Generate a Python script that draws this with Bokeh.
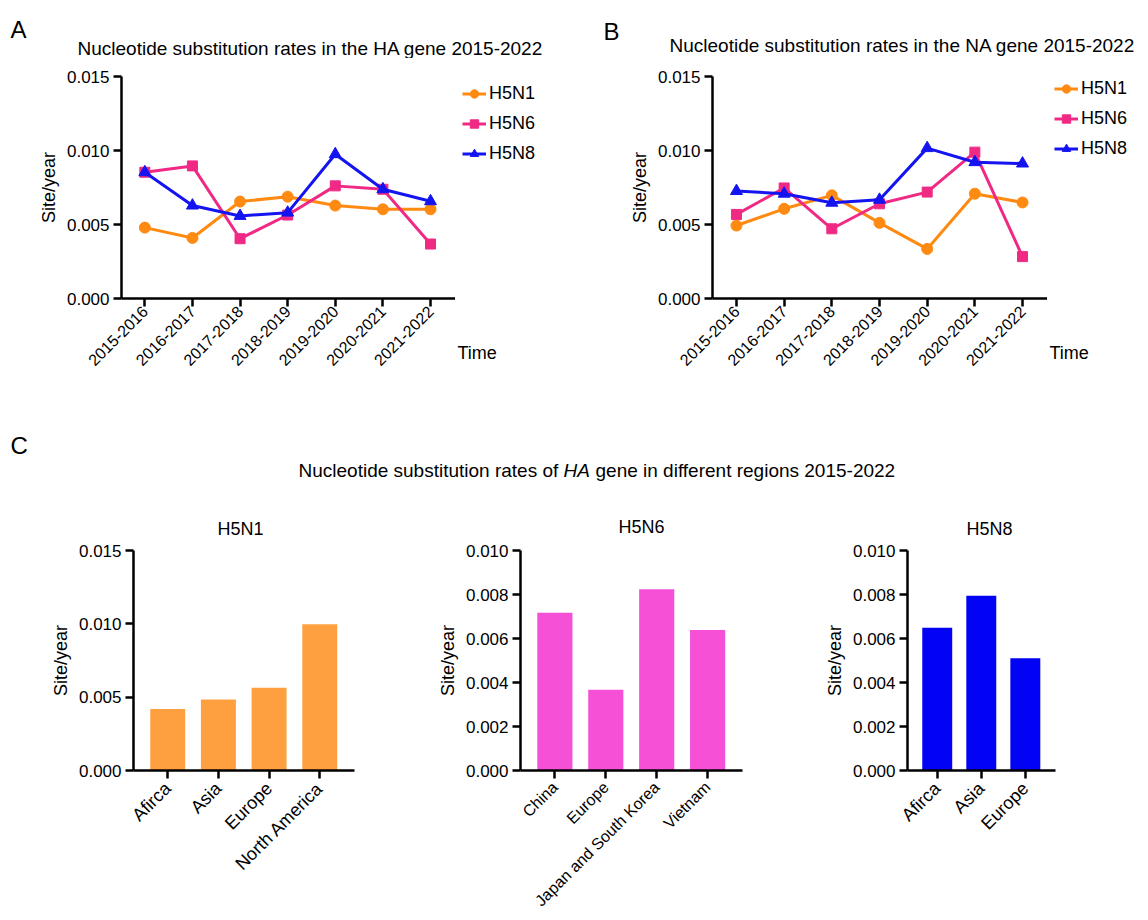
import math
from bokeh.plotting import figure
from bokeh.models import Range1d, FixedTicker, NumeralTickFormatter, Label, Legend, LegendItem, Title
from bokeh.layouts import column, row
from bokeh.embed import file_html
from bokeh.resources import INLINE

FONT = "Liberation Sans"

# ---------------- data ----------------
periods = ["2015-2016", "2016-2017", "2017-2018", "2018-2019", "2019-2020", "2020-2021", "2021-2022"]
subtypes = ["H5N1", "H5N6", "H5N8"]

ha_h5n1 = [0.00479, 0.00409, 0.00655, 0.00688, 0.00628, 0.00603, 0.00603]
ha_h5n6 = [0.00853, 0.00896, 0.00404, 0.00564, 0.00761, 0.00738, 0.00368]
ha_h5n8 = [0.00853, 0.00628, 0.00558, 0.00580, 0.00975, 0.00738, 0.00657]

na_h5n1 = [0.00493, 0.00606, 0.00697, 0.00511, 0.00335, 0.00708, 0.00649]
na_h5n6 = [0.00568, 0.00747, 0.00471, 0.00640, 0.00719, 0.00989, 0.00283]
na_h5n8 = [0.00726, 0.00708, 0.00647, 0.00667, 0.01016, 0.00921, 0.00912]

h5n1_regions = ["Afirca", "Asia", "Europe", "North America"]
h5n1_rates = [0.00420, 0.00484, 0.00564, 0.00998]
h5n6_regions = ["China", "Europe", "Japan and South Korea", "Vietnam"]
h5n6_rates = [0.00717, 0.00367, 0.00824, 0.00639]
h5n8_regions = ["Afirca", "Asia", "Europe"]
h5n8_rates = [0.00649, 0.00794, 0.00510]

ticks_015 = [0.0, 0.005, 0.010, 0.015]
ticks_010 = [0.0, 0.002, 0.004, 0.006, 0.008, 0.010]

line_colors = ["#FF8A12", "#F02A84", "#1414F0"]
markers = ["circle", "square", "triangle"]
marker_sizes = [11, 10, 12]
bar_colors = ["#FFA040", "#F550D6", "#0202F4"]


def base_fig(width, height, mbl, mbr, mbt, mbb, xr, yr):
    p = figure(width=width, height=height, x_range=Range1d(*xr), y_range=Range1d(*yr),
               toolbar_location=None, output_backend="svg",
               min_border_left=mbl, min_border_right=mbr,
               min_border_top=mbt, min_border_bottom=mbb)
    p.title_location = None
    p.outline_line_color = None
    p.xgrid.visible = False
    p.ygrid.visible = False
    for ax in (p.xaxis[0], p.yaxis[0]):
        ax.axis_line_width = 2.5
        ax.axis_line_color = "black"
        ax.major_tick_line_width = 2.5
        ax.major_tick_line_color = "black"
        ax.major_tick_out = 8
        ax.major_tick_in = 0
        ax.minor_tick_line_color = None
        ax.major_label_text_font = FONT
        ax.major_label_text_color = "black"
        ax.axis_label_text_font = FONT
        ax.axis_label_text_font_style = "normal"
        ax.axis_label_text_color = "black"
    p.yaxis[0].major_label_text_font_size = "17px"
    p.yaxis[0].formatter = NumeralTickFormatter(format="0.000")
    p.yaxis[0].axis_label = "Site/year"
    p.yaxis[0].axis_label_text_font_size = "18px"
    p.yaxis[0].major_label_standoff = 4
    p.yaxis[0].axis_label_standoff = 5
    p.xaxis[0].major_label_orientation = math.pi / 4
    p.xaxis[0].major_label_standoff = 2
    return p


def blank(width, height, mbt=0, mbb=0):
    p = figure(width=width, height=height, x_range=Range1d(0, width), y_range=Range1d(0, height),
               toolbar_location=None, output_backend="svg",
               min_border_left=0, min_border_right=0, min_border_top=mbt, min_border_bottom=mbb,
               x_axis_location=None, y_axis_location=None)
    p.title_location = None
    p.outline_line_color = None
    p.xgrid.visible = False
    p.ygrid.visible = False
    return p


def lbl(p, x, y, text, size, **kw):
    p.add_layout(Label(x=x, y=y, x_units="screen", y_units="screen", text=text,
                       text_font=FONT, text_font_size=size, text_color="black", **kw))


def line_panel(width, height, mbl, mbt, mbb, xr, series):
    p = base_fig(width, height, mbl, 0, mbt, mbb, xr, (0, 0.015))
    p.yaxis[0].ticker = FixedTicker(ticks=ticks_015)
    xs = list(range(len(periods)))
    p.xaxis[0].ticker = FixedTicker(ticks=xs)
    p.xaxis[0].major_label_overrides = {i: s for i, s in enumerate(periods)}
    p.xaxis[0].major_label_text_font_size = "16px"
    for vals, col, mk, ms in zip(series, line_colors, markers, marker_sizes):
        p.line(xs, vals, line_color=col, line_width=3)
        p.scatter(xs, vals, marker=mk, size=ms, fill_color=col, line_color=col)
    return p


def side_panel(width, height, mbt, mbb, legend_pos, series):
    # legend lives in its own panel beside the chart; proxies carry the same series but are hidden
    s = blank(width, height, mbt, mbb)
    xs = list(range(len(periods)))
    items = []
    for vals, name, col, mk, ms in zip(series, subtypes, line_colors, markers, marker_sizes):
        lr = s.line(xs, vals, line_color=col, line_width=3, visible=False)
        sr = s.scatter(xs, vals, marker=mk, size=ms, fill_color=col, line_color=col, visible=False)
        items.append(LegendItem(label=name, renderers=[lr, sr], index=0))
    leg = Legend(items=items, location=legend_pos, glyph_width=24, glyph_height=21,
                 label_height=21, label_standoff=3, spacing=9, padding=0, margin=0,
                 label_text_font=FONT, label_text_font_size="18px", label_text_color="black",
                 border_line_color=None, background_fill_alpha=0,
                 inactive_fill_alpha=0)
    s.add_layout(leg)
    s.add_layout(Title(text="Time", align="left", offset=2, standoff=85,
                       text_font=FONT, text_font_size="18px", text_font_style="normal",
                       text_color="black"), "below")
    return s


def bar_panel(width, height, mbl, mbr, mbt, mbb, regions, rates, color, yr, yticks, xfs, xso, bar_w):
    n = len(regions)
    xr = (-0.675, n - 1 + 0.685)
    p = base_fig(width, height, mbl, mbr, mbt, mbb, xr, yr)
    p.yaxis[0].ticker = FixedTicker(ticks=yticks)
    xs = list(range(n))
    p.xaxis[0].ticker = FixedTicker(ticks=xs)
    p.xaxis[0].major_label_overrides = {i: s for i, s in enumerate(regions)}
    p.xaxis[0].major_label_text_font_size = xfs
    p.xaxis[0].major_label_standoff = xso
    p.vbar(x=xs, top=rates, width=bar_w, fill_color=color, line_color=None)
    return p


# ---------------- row 0: letters + titles of A and B ----------------
head1 = blank(1148, 58)
lbl(head1, 10, 29, "A", "24px", text_baseline="alphabetic")
lbl(head1, 77, 10, "Nucleotide substitution rates in the HA gene  2015-2022", "19px",
    text_baseline="alphabetic")
lbl(head1, 603, 27, "B", "24px", text_baseline="alphabetic")
lbl(head1, 669, 13, "Nucleotide substitution rates in the NA gene  2015-2022", "19px",
    text_baseline="alphabetic")

# ---------------- row 1: line charts (frames at y 76..298) ----------------
ROW1_H, R1_TOP, R1_BOT = 360, 18, 120
ha_series = [ha_h5n1, ha_h5n6, ha_h5n8]
na_series = [na_h5n1, na_h5n6, na_h5n8]
figA = line_panel(455, ROW1_H, 121, R1_TOP, R1_BOT, (-0.49, 6.525), ha_series)
sideA = side_panel(145, ROW1_H, R1_TOP, R1_BOT, (7, 134.5), ha_series)
figB = line_panel(447, ROW1_H, 112, R1_TOP, R1_BOT, (-0.503, 6.524), na_series)
sideB = side_panel(101, ROW1_H, R1_TOP, R1_BOT, (7, 139.5), na_series)

# ---------------- row 2: panel C header ----------------
head2 = blank(1148, 120)
lbl(head2, 10, 93, "C", "24px", text_baseline="alphabetic")
lbl(head2, 298, 68, "Nucleotide substitution rates of", "19px", text_baseline="alphabetic")
lbl(head2, 563, 68, "HA", "19px", text_baseline="alphabetic", text_font_style="italic")
lbl(head2, 595, 68, "gene  in different regions 2015-2022", "19px", text_baseline="alphabetic")
lbl(head2, 240, 10, "H5N1", "18px", text_align="center", text_baseline="alphabetic")
lbl(head2, 641, 12, "H5N6", "18px", text_align="center", text_baseline="alphabetic")
lbl(head2, 989, 10, "H5N8", "18px", text_align="center", text_baseline="alphabetic")

# ---------------- row 3: bar charts ----------------
ROW3_H, R3_TOP, R3_BOT = 382, 12, 150
figC1 = bar_panel(400, ROW3_H, 133, 46, R3_TOP, R3_BOT, h5n1_regions, h5n1_rates,
                  bar_colors[0], (0, 0.015), ticks_015, "18px", 7, 0.69)
figC2 = bar_panel(390, ROW3_H, 120, 48, R3_TOP, R3_BOT, h5n6_regions, h5n6_rates,
                  bar_colors[1], (0, 0.010), ticks_010, "16px", 6, 0.69)
figC3 = bar_panel(358, ROW3_H, 117, 93, R3_TOP, R3_BOT, h5n8_regions, h5n8_rates,
                  bar_colors[2], (0, 0.010), ticks_010, "18px", 7, 0.68)

layout = column(head1, row(figA, sideA, figB, sideB), head2, row(figC1, figC2, figC3))

open("out.html", "w").write(file_html(layout, INLINE))
